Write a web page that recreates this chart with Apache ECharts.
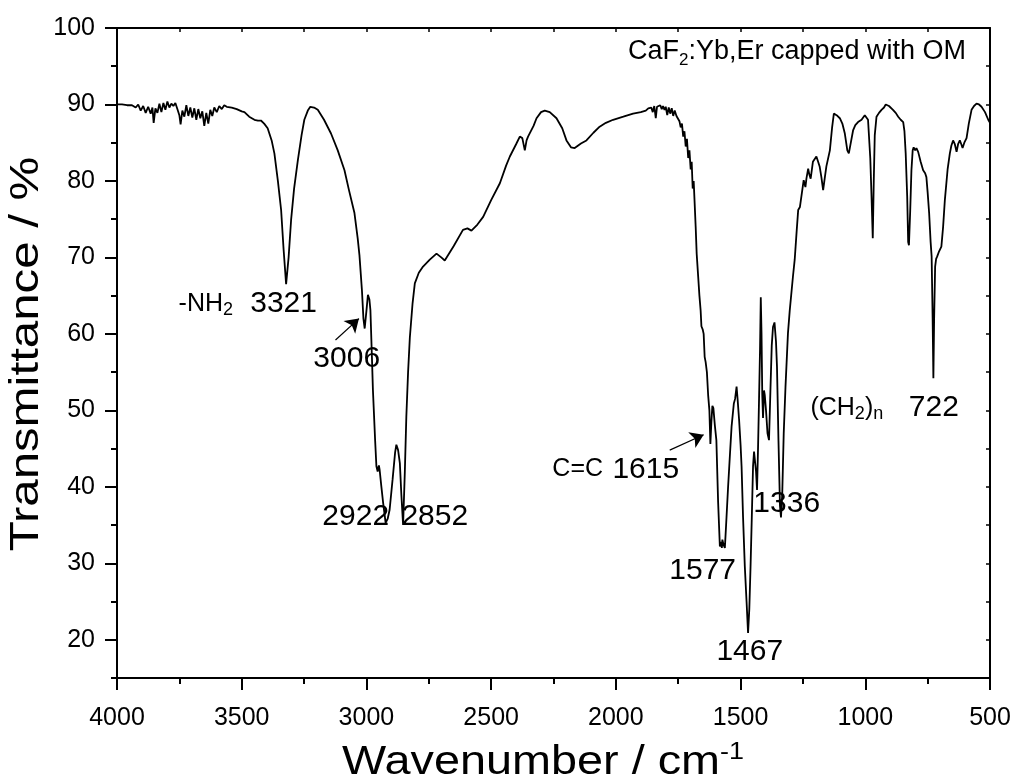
<!DOCTYPE html>
<html>
<head>
<meta charset="utf-8">
<script src="https://cdn.jsdelivr.net/npm/echarts@6/dist/echarts.min.js"></script>
<style>html,body{margin:0;padding:0;background:#fff;}#chart{width:1017px;height:781px;}</style>
</head>
<body>
<div id="chart"></div>
<script>
// ---- data ----
const wavenumbers = [
4000,3980,3960,3940,3925,3915,3905,3895,3885,3875,3865,3858,3853,3846,3838,3830,3822,3814,3806,3798,
3790,3782,3774,3766,3758,3750,3745,3738,3730,3722,3714,3706,3698,3690,3682,3674,3666,3658,3650,3642,
3634,3626,3618,3610,3600,3590,3580,3570,3560,3540,3520,3500,3489,3470,3449,3435,3423,3410,3396,3380,
3369,3355,3342,3332,3322,3312,3302,3290,3275,3260,3249,3235,3225,3210,3195,3170,3142,3115,3088,3070,
3048,3035,3028,3018,3012,3007,3000,2994,2988,2984,2978,2974,2965,2960,2955,2950,2947,2940,2933,2923,
2915,2907,2895,2885,2880,2873,2866,2860,2853,2846,2840,2833,2826,2815,2806,2790,2773,2746,2719,2700,
2686,2679,2650,2613,2595,2579,2555,2532,2500,2465,2440,2425,2400,2385,2375,2365,2358,2352,2345,2330,
2318,2300,2285,2265,2238,2215,2198,2180,2165,2140,2118,2090,2065,2040,2011,1970,1931,1900,1880,1870,
1864,1858,1852,1846,1840,1835,1828,1822,1816,1811,1805,1800,1794,1788,1782,1776,1770,1764,1757,1750,
1745,1740,1735,1730,1725,1720,1715,1710,1705,1700,1696,1692,1688,1684,1680,1676,1670,1665,1660,1657,
1652,1648,1644,1640,1635,1630,1625,1621,1617,1613,1609,1603,1597,1590,1583,1578,1575,1573,1568,1563,
1558,1550,1543,1536,1527,1522,1516,1512,1506,1500,1496,1490,1483,1476,1470,1465,1460,1455,1450,1446,
1443,1438,1434,1430,1426,1422,1419,1416,1413,1410,1406,1403,1398,1392,1386,1380,1375,1370,1364,1358,
1354,1348,1342,1338,1333,1327,1320,1310,1303,1290,1283,1275,1269,1262,1256,1247,1240,1236,1229,1224,
1219,1210,1196,1190,1183,1176,1169,1162,1156,1142,1133,1126,1115,1102,1092,1082,1072,1066,1058,1049,
1040,1029,1015,1002,995,989,980,975,970,966,962,955,945,935,925,918,912,905,900,889,
878,868,858,848,843,838,832,828,825,820,815,810,806,800,795,788,778,768,760,755,
750,744,738,734,730,727,724,720,716,712,704,695,688,681,670,661,655,648,641,634,
628,621,615,610,603,594,585,574,564,554,544,534,520,507,500
];
const transmittance = [
90.0,90.0,89.9,89.9,89.6,90.0,89.2,89.8,88.9,89.7,88.8,89.6,87.6,89.5,88.9,90.1,89.0,90.2,89.3,90.4,
89.6,90.1,89.8,90.2,89.4,88.6,87.4,89.2,88.4,89.9,88.5,89.6,88.3,89.5,88.0,89.4,88.2,89.1,87.2,88.9,
87.5,89.3,88.5,89.6,89.0,89.8,89.4,89.9,89.7,89.6,89.4,89.1,89.0,88.4,88.0,87.9,87.9,87.5,86.9,85.3,
83.6,80.0,76.2,71.0,66.5,70.0,74.9,79.0,82.7,86.0,88.0,89.2,89.7,89.6,89.3,88.0,86.2,84.0,81.4,78.8,
75.8,72.5,70.3,65.7,62.0,60.7,63.0,65.1,64.5,63.1,57.0,52.7,46.0,42.7,42.0,42.8,42.2,40.0,37.9,35.3,
35.8,37.0,41.0,44.5,45.5,44.8,43.1,39.0,35.0,42.0,49.2,55.0,59.5,64.0,66.6,68.0,68.8,69.7,70.5,70.0,
69.6,69.7,71.5,73.6,73.8,73.5,74.3,75.3,77.5,79.7,82.0,83.2,84.8,85.8,85.6,84.0,85.3,85.8,85.6,87.2,
88.2,89.0,89.2,89.0,88.2,86.9,85.3,84.4,84.3,84.9,85.3,86.3,87.1,87.6,88.0,88.4,88.8,89.0,89.2,89.5,
89.3,89.6,89.0,89.8,88.2,89.7,89.5,89.9,89.4,89.8,89.3,89.7,88.6,89.6,88.8,89.5,88.5,89.2,88.5,88.7,
87.8,87.0,87.5,85.8,86.5,84.5,85.5,83.0,84.0,81.5,82.5,79.0,80.0,77.0,74.0,70.5,67.5,65.0,63.0,61.0,
60.6,60.0,57.0,56.3,55.0,52.0,50.0,45.6,48.5,50.6,50.3,48.0,46.1,38.0,32.2,32.8,32.0,33.1,32.4,32.0,
35.0,40.0,44.0,47.9,50.9,51.5,53.1,51.5,48.8,45.5,42.7,36.0,29.6,25.0,20.9,24.0,29.6,36.0,42.7,44.6,
44.4,42.0,39.6,45.0,51.4,58.0,64.8,60.0,52.0,49.0,52.6,52.0,50.0,47.0,46.1,53.0,58.5,60.9,61.5,59.0,
55.7,46.0,37.5,36.0,39.0,47.0,53.0,60.1,63.0,67.5,69.7,73.5,76.2,76.6,76.8,80.1,79.2,80.3,81.6,80.8,
80.3,82.5,83.2,82.6,81.9,80.5,78.8,80.5,81.9,84.0,87.0,88.8,88.6,88.2,87.5,86.2,84.0,83.6,85.0,86.6,
87.3,87.7,88.0,88.6,88.6,88.0,83.0,78.0,72.5,80.0,86.0,88.4,88.9,89.3,89.6,90.0,90.1,89.8,89.6,89.3,
88.9,88.4,88.0,87.7,86.5,83.6,78.0,72.0,71.6,76.0,81.4,84.0,84.4,84.0,84.3,83.8,82.5,81.4,81.0,80.5,
78.5,75.8,72.0,70.1,62.0,54.2,62.0,68.8,69.8,70.1,70.8,71.4,74.0,77.5,81.5,83.6,84.6,85.3,84.8,83.8,
84.8,85.3,84.8,84.3,85.0,85.6,87.5,89.3,89.8,90.1,90.0,89.7,89.0,88.0,87.6
];
// annotation texts and their anchor positions (wavenumber, transmittance)
const labelText = ['-NH2','3321','3006','2922','2852','C=C','1615','1577','1467','1336','(CH2)n','722'];
const labelWn   = [3644, 3332, 3079, 3043, 2726, 2153, 1880, 1652, 1463, 1315, 1074, 725];
const labelT    = [63.9, 63.9, 56.8, 36.1, 36.1, 42.3, 42.3, 29.0, 18.4, 37.8, 50.3, 50.3];
// arrows: [wavenumber, transmittance] of tail and head
const arrowFrom = [[3124, 59.2], [1784, 44.8]];
const arrowTo   = [[3030, 62.0], [1648, 46.8]];
const yMajorTicks = [20, 30, 40, 50, 60, 70, 80, 90, 100];
const yMinorTicks = [15, 25, 35, 45, 55, 65, 75, 85, 95];

// ---- chart ----
const FONT = '"Liberation Sans", Arial, sans-serif';
const chart = echarts.init(document.getElementById('chart'));
const lineData = wavenumbers.map((w, i) => [w, transmittance[i]]);
function toRich(s) {
  if (/^\d+$/.test(s)) return '{n|' + s + '}';
  const out = s.replace(/([A-Z])(\d)/g, '$1\u0000$2\u0001').replace(/\)n$/, ')\u0000n\u0001');
  let res = '';
  out.split(/(\u0000[^\u0001]*\u0001)/).forEach(p => {
    if (!p) return;
    if (p[0] === '\u0000') res += '{s|' + p.slice(1, -1) + '}';
    else res += '{m|' + p + '}';
  });
  return res;
}
const labelData = labelText.map((t, i) => ({
  value: [labelWn[i], labelT[i]],
  label: { formatter: toRich(t) }
}));
const arrowData = arrowFrom.map((f, i) => [{ coord: f }, { coord: arrowTo[i] }]);

const axisLineStyle = { color: '#000', width: 2 };
const option = {
  animation: false,
  backgroundColor: '#fff',
  title: {
    text: '{a|CaF}{s|2}{a|:Yb,Er capped with OM}',
    right: 46, top: 30,
    textStyle: {
      fontWeight: 'normal',
      rich: {
        a: { fontFamily: FONT, fontSize: 27, fontWeight: 'normal', color: '#000', lineHeight: 34 },
        s: { fontFamily: FONT, fontSize: 17, fontWeight: 'normal', color: '#000', lineHeight: 16, verticalAlign: 'bottom' }
      }
    }
  },
  graphic: [{
    type: 'text', x: 543, y: 763, scaleX: 1.17, silent: true,
    style: {
      text: '{a|Wavenumber / cm}{p|-1}', align: 'center', verticalAlign: 'middle',
      rich: {
        a: { fontFamily: FONT, fontSize: 40, fill: '#000', lineHeight: 44 },
        p: { fontFamily: FONT, fontSize: 23, fill: '#000', lineHeight: 22, verticalAlign: 'top' }
      }
    }
  }, {
    type: 'text', x: 27, y: 354, rotation: Math.PI / 2, scaleX: 1.23, silent: true,
    style: {
      text: 'Transmittance / %', align: 'center', verticalAlign: 'middle',
      font: '40px "Liberation Sans", Arial, sans-serif', fill: '#000'
    }
  }],
  grid: { left: 117, right: 27, top: 28, bottom: 103, containLabel: false },
  xAxis: [{
    type: 'value', min: 500, max: 4000, interval: 500, inverse: true,
    position: 'bottom',
    axisLine: { show: true, lineStyle: axisLineStyle, onZero: false },
    axisTick: { show: true, inside: false, length: 12, lineStyle: { color: '#000', width: 2 } },
    minorTick: { show: true, splitNumber: 2, length: 6, lineStyle: { color: '#000', width: 2 } },
    axisLabel: { fontFamily: FONT, fontSize: 25, color: '#000', margin: 28, formatter: v => String(v) },
    splitLine: { show: false }
  }, {
    type: 'value', min: 500, max: 4000, interval: 500, inverse: true,
    position: 'top',
    axisLine: { show: true, lineStyle: axisLineStyle, onZero: false },
    axisTick: { show: true, inside: true, length: 4, lineStyle: { color: '#000', width: 1.5 } },
    minorTick: { show: true, splitNumber: 2, length: 4, lineStyle: { color: '#000', width: 1.5 } },
    axisLabel: { show: false },
    splitLine: { show: false }
  }],
  yAxis: [{
    type: 'value', min: 15, max: 100,
    position: 'left',
    axisLine: { show: true, lineStyle: axisLineStyle, onZero: false },
    axisTick: { show: true, inside: false, length: 12, customValues: yMajorTicks, lineStyle: { color: '#000', width: 2 } },
    axisLabel: { fontFamily: FONT, fontSize: 25, color: '#000', margin: 22, customValues: yMajorTicks },
    splitLine: { show: false }
  }, {
    type: 'value', min: 15, max: 100,
    position: 'left',
    axisLine: { show: false },
    axisTick: { show: true, inside: false, length: 6, customValues: yMinorTicks, lineStyle: { color: '#000', width: 2 } },
    axisLabel: { show: false, customValues: yMinorTicks },
    splitLine: { show: false }
  }, {
    type: 'value', min: 15, max: 100, interval: 5,
    position: 'right',
    axisLine: { show: true, lineStyle: axisLineStyle, onZero: false },
    axisTick: { show: true, inside: true, length: 4, lineStyle: { color: '#000', width: 1.5 } },
    axisLabel: { show: false },
    splitLine: { show: false }
  }],
  series: [{
    type: 'line',
    xAxisIndex: 0, yAxisIndex: 0,
    data: lineData,
    showSymbol: false,
    symbol: 'none',
    lineStyle: { color: '#000', width: 1.8 },
    markLine: {
      silent: true,
      symbol: ['none', 'arrow'],
      symbolSize: 13,
      lineStyle: { color: '#000', width: 1.2, type: 'solid' },
      itemStyle: { color: '#000' },
      label: { show: false },
      data: arrowData
    }
  }, {
    type: 'scatter',
    xAxisIndex: 0, yAxisIndex: 0,
    data: labelData,
    symbolSize: 0,
    itemStyle: { opacity: 1, color: '#000' },
    label: {
      show: true, position: 'inside', color: '#000', opacity: 1, textBorderWidth: 0,
      rich: {
        n: { fontFamily: FONT, fontSize: 30, color: '#000', lineHeight: 34, textBorderWidth: 0 },
        m: { fontFamily: FONT, fontSize: 25, color: '#000', lineHeight: 30, textBorderWidth: 0 },
        s: { fontFamily: FONT, fontSize: 18, color: '#000', lineHeight: 16, verticalAlign: 'bottom', textBorderWidth: 0 }
      }
    }
  }]
};
chart.setOption(option);
</script>
</body>
</html>
